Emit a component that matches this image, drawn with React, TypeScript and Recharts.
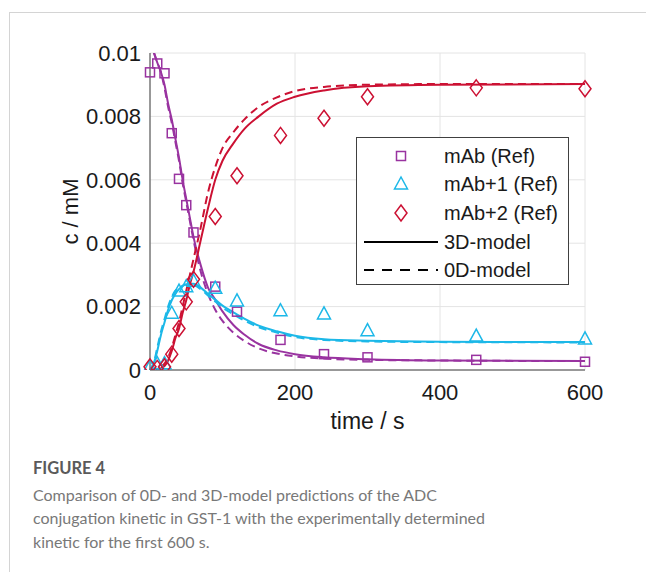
import { ComposedChart, Line, Scatter, XAxis, YAxis, CartesianGrid } from "recharts"

// reference (measured) points
const refTimes = [0, 10, 20, 30, 40, 50, 60, 90, 120, 180, 240, 300, 450, 600]
const mAbRef = [0.00939, 0.00967, 0.00936, 0.00747, 0.00603, 0.0052, 0.00434, 0.00263, 0.00184, 0.00095, 0.0005, 0.0004, 0.00032, 0.00026]
const mAb1Ref = [0.0001, 0.0002, 0.0002, 0.00179, 0.00249, 0.00263, 0.0028, 0.00258, 0.00218, 0.00187, 0.00177, 0.00124, 0.00107, 0.00098]
const mAb2Ref = [0.0001, 0.00005, 0.0001, 0.0005, 0.00131, 0.00215, 0.00286, 0.00484, 0.00613, 0.0074, 0.00794, 0.00862, 0.0089, 0.00887]

// model curves
const modelTimes = [0, 5, 10, 15, 20, 25, 30, 35, 40, 45, 50, 55, 60, 70, 80, 90, 100, 115, 130, 150, 175, 200, 240, 300, 400, 600]
const mAb3D = [0.0104, 0.01005, 0.0097, 0.0094, 0.009, 0.0084, 0.0079, 0.0073, 0.0067, 0.006, 0.0054, 0.0048, 0.0042, 0.0033, 0.0026, 0.00222, 0.00185, 0.00142, 0.00112, 0.00082, 0.00062, 0.0005, 0.0004, 0.00034, 0.0003, 0.00028]
const mAb0D = [0.0104, 0.01003, 0.0097, 0.0094, 0.0089, 0.0083, 0.0078, 0.0072, 0.0066, 0.0059, 0.0053, 0.0047, 0.0041, 0.0031, 0.0024, 0.0019, 0.00155, 0.00118, 0.00092, 0.00068, 0.00052, 0.00043, 0.00036, 0.00032, 0.0003, 0.00028]
const mAb13D = [0, 0.0002, 0.0006, 0.0011, 0.0015, 0.0019, 0.0022, 0.0024, 0.00255, 0.00265, 0.0027, 0.00272, 0.00272, 0.0026, 0.0024, 0.00222, 0.00203, 0.00182, 0.00162, 0.0014, 0.00122, 0.00108, 0.00097, 0.00092, 0.00089, 0.00088]
const mAb10D = [0, 0.0002, 0.0007, 0.0012, 0.0016, 0.002, 0.0023, 0.0025, 0.00258, 0.00266, 0.0027, 0.0027, 0.00268, 0.00255, 0.00235, 0.00216, 0.00197, 0.00176, 0.00156, 0.00135, 0.00118, 0.00104, 0.00095, 0.0009, 0.00088, 0.00087]
const mAb23D = [0, 0, 0, 0.00005, 0.00012, 0.0003, 0.0006, 0.001, 0.0013, 0.0018, 0.0022, 0.0027, 0.0031, 0.0041, 0.0051, 0.006, 0.0066, 0.00715, 0.0076, 0.008, 0.0084, 0.00862, 0.00882, 0.00895, 0.009, 0.00902]
const mAb20D = [0, 0, 0, 0.0001, 0.0002, 0.0004, 0.0007, 0.0011, 0.0015, 0.002, 0.0025, 0.003, 0.0035, 0.0045, 0.0056, 0.0064, 0.007, 0.0075, 0.0079, 0.0083, 0.0086, 0.0088, 0.00893, 0.009, 0.00902, 0.00902]

const xTicks = [0, 200, 400, 600]
const yTicks = [0, 0.002, 0.004, 0.006, 0.008, 0.01]

const PURPLE = "#9933a0"
const CYAN = "#1cb8e8"
const RED = "#cc1133"
const AXIS = "#404040"
const FONT = "'Liberation Sans', Arial, sans-serif"

const toPoints = (ts: number[], cs: number[]) => ts.map((t, i) => ({ t, c: cs[i] }))

const squareShape = (color: string) => (p: any) => (
  <rect x={p.cx - 4.5} y={p.cy - 4.5} width={9} height={9} fill="none" stroke={color} strokeWidth={1.5} />
)
const triangleShape = (color: string) => (p: any) => (
  <polygon
    points={`${p.cx},${p.cy - 7} ${p.cx - 6.5},${p.cy + 5} ${p.cx + 6.5},${p.cy + 5}`}
    fill="none"
    stroke={color}
    strokeWidth={1.5}
  />
)
const diamondShape = (color: string) => (p: any) => (
  <polygon
    points={`${p.cx},${p.cy - 8} ${p.cx + 6},${p.cy} ${p.cx},${p.cy + 8} ${p.cx - 6},${p.cy}`}
    fill="none"
    stroke={color}
    strokeWidth={1.5}
  />
)

function LegendBox() {
  const rows = [18, 46, 75, 104, 132]
  return (
    <div style={{ position: "absolute", left: 356, top: 137, width: 211, height: 146, border: `1px solid ${AXIS}`, background: "#fff" }}>
      <svg width={211} height={146} style={{ display: "block" }}>
        <rect x={44 - 4.5} y={rows[0] - 4.5} width={9} height={9} fill="none" stroke={PURPLE} strokeWidth={1.5} />
        <polygon points={`44,${rows[1] - 7} 37.5,${rows[1] + 5} 50.5,${rows[1] + 5}`} fill="none" stroke={CYAN} strokeWidth={1.5} />
        <polygon points={`44,${rows[2] - 8} 50,${rows[2]} 44,${rows[2] + 8} 38,${rows[2]}`} fill="none" stroke={RED} strokeWidth={1.5} />
        <line x1={7} x2={81} y1={rows[3]} y2={rows[3]} stroke="#000" strokeWidth={2} />
        <line x1={7} x2={81} y1={rows[4]} y2={rows[4]} stroke="#000" strokeWidth={2} strokeDasharray="10 8" />
        {["mAb (Ref)", "mAb+1 (Ref)", "mAb+2 (Ref)", "3D-model", "0D-model"].map((s, i) => (
          <text key={s} x={87} y={rows[i]} dominantBaseline="central" fontSize={20} fontFamily={FONT} fill="#1a1a1a">
            {s}
          </text>
        ))}
      </svg>
    </div>
  )
}

export default function App() {
  return (
    <div style={{ position: "absolute", left: 0, top: 0, width: 646, height: 572, background: "#fff", overflow: "hidden" }}>
      <div style={{ position: "absolute", left: 9, top: 12, width: 700, height: 700, borderLeft: "1px solid #d4d4d4", borderTop: "1px solid #d4d4d4" }} />
      <div style={{ position: "absolute", left: 0, top: 0 }}>
        <ComposedChart width={646} height={440} margin={{ top: 53, right: 61, left: 60, bottom: 20 }}>
          <CartesianGrid stroke="#e4e4e4" strokeWidth={1} vertical horizontal />
          <XAxis
            xAxisId={0}
            dataKey="t"
            type="number"
            domain={[0, 600]}
            ticks={xTicks}
            height={50}
            tickSize={0}
            tickMargin={14}
            axisLine={{ stroke: AXIS }}
            tick={{ fontSize: 22, fill: "#1a1a1a", fontFamily: FONT }}
            label={{
              content: ({ viewBox }: any) => (
                <text x={viewBox.x + viewBox.width / 2} y={viewBox.y + 51} textAnchor="middle" dominantBaseline="central" fontSize={23} fontFamily={FONT} fill="#1a1a1a">
                  time / s
                </text>
              ),
            }}
          />
          <XAxis xAxisId="top" orientation="top" type="number" domain={[0, 600]} ticks={xTicks} height={0} mirror tick={false} tickSize={5} axisLine={{ stroke: AXIS }} tickLine={{ stroke: AXIS }} />
          <YAxis
            yAxisId={0}
            type="number"
            domain={[0, 0.01]}
            allowDataOverflow
            ticks={yTicks}
            width={90}
            tickSize={0}
            tickMargin={9}
            axisLine={{ stroke: AXIS }}
            tick={{ fontSize: 22, fill: "#1a1a1a", fontFamily: FONT }}
            label={{
              content: ({ viewBox }: any) => (
                <text
                  x={70}
                  y={viewBox.y + viewBox.height / 2}
                  transform={`rotate(-90, 70, ${viewBox.y + viewBox.height / 2})`}
                  textAnchor="middle"
                  dominantBaseline="central"
                  fontSize={22}
                  fontFamily={FONT}
                  fill="#1a1a1a"
                >
                  c / mM
                </text>
              ),
            }}
          />
          <YAxis yAxisId="right" orientation="right" type="number" domain={[0, 0.01]} ticks={yTicks} width={0} mirror tick={false} tickSize={5} axisLine={{ stroke: AXIS }} tickLine={{ stroke: AXIS }} />

          <Scatter data={toPoints(refTimes, mAbRef)} dataKey="c" shape={squareShape(PURPLE)} isAnimationActive={false} />
          <Scatter data={toPoints(refTimes, mAb1Ref)} dataKey="c" shape={triangleShape(CYAN)} isAnimationActive={false} />
          <Scatter data={toPoints(refTimes, mAb2Ref)} dataKey="c" shape={diamondShape(RED)} isAnimationActive={false} />

          <Line data={toPoints(modelTimes, mAb3D)} dataKey="c" type="monotone" stroke={PURPLE} strokeWidth={2} dot={false} isAnimationActive={false} />
          <Line data={toPoints(modelTimes, mAb0D)} dataKey="c" type="monotone" stroke={PURPLE} strokeWidth={2} strokeDasharray="8 5" dot={false} isAnimationActive={false} />
          <Line data={toPoints(modelTimes, mAb13D)} dataKey="c" type="monotone" stroke={CYAN} strokeWidth={2} dot={false} isAnimationActive={false} />
          <Line data={toPoints(modelTimes, mAb10D)} dataKey="c" type="monotone" stroke={CYAN} strokeWidth={2} strokeDasharray="8 5" dot={false} isAnimationActive={false} />
          <Line data={toPoints(modelTimes, mAb23D)} dataKey="c" type="monotone" stroke={RED} strokeWidth={2} dot={false} isAnimationActive={false} />
          <Line data={toPoints(modelTimes, mAb20D)} dataKey="c" type="monotone" stroke={RED} strokeWidth={2} strokeDasharray="8 5" dot={false} isAnimationActive={false} />
        </ComposedChart>
      </div>
      <LegendBox />
      <div style={{ position: "absolute", left: 33, top: 457, width: 600, fontFamily: "Lato, 'Open Sans', sans-serif", fontSize: 16, lineHeight: "23.5px" }}>
        <div style={{ color: "#5a5a5a", fontWeight: 700, fontSize: 16.5 }}>FIGURE 4</div>
        <div style={{ color: "#787878", marginTop: 2 }}>
          Comparison of 0D- and 3D-model predictions of the ADC
          <br />
          conjugation kinetic in GST-1 with the experimentally determined
          <br />
          kinetic for the first 600 s.
        </div>
      </div>
    </div>
  )
}
